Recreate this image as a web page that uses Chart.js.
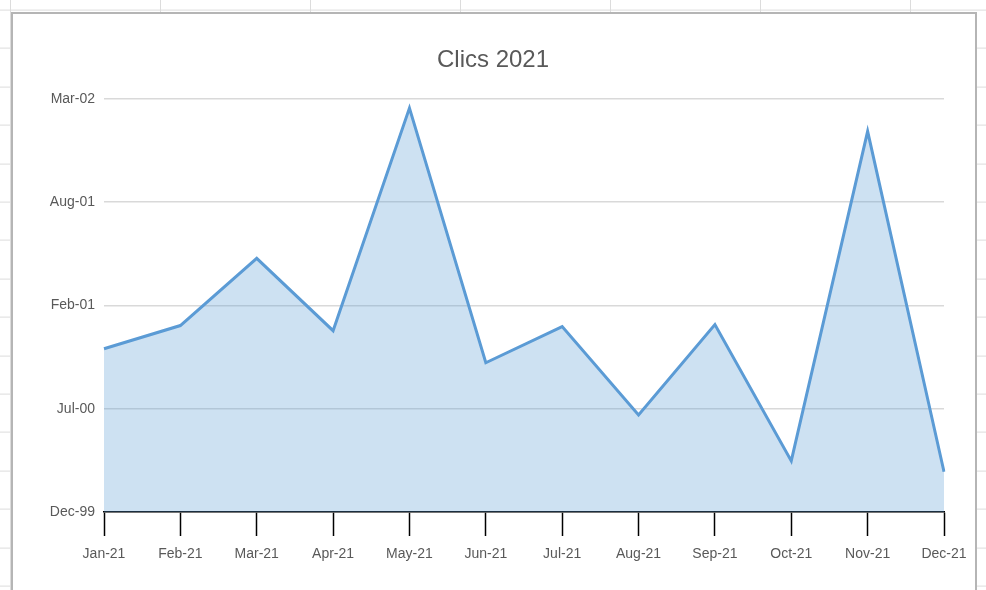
<!DOCTYPE html>
<html lang="fr">
<head>
    <meta charset="UTF-8">
    <title>Clics 2021</title>
    <script src="https://cdn.jsdelivr.net/npm/chart.js"></script>
    <style>
        html, body { margin: 0; padding: 0; }
        body {
            width: 986px;
            height: 590px;
            overflow: hidden;
            position: relative;
            background-color: #fff;
            /* spreadsheet cells behind the chart */
            background-image:
                repeating-linear-gradient(to right, #dcdcdc 0 1px, transparent 1px 150px),
                repeating-linear-gradient(to bottom, #dcdcdc 0 1px, transparent 1px 38.4px);
            background-position: 10px 0, 0 9.6px;
        }
        .chart-box {
            position: absolute;
            left: 11px;
            top: 12px;
            width: 962px;
            height: 620px;
            background: #fff;
            border: 2px solid #b5b5b5;
        }
        #clicsChart {
            position: absolute;
            left: 0;
            top: 0;
        }
    </style>
</head>
<body>
    <div class="chart-box"></div>
    <canvas id="clicsChart" width="986" height="590"></canvas>

    <script>
        // Data (values are Excel date serials, shown as mmm-yy on the y axis)
        const months = ['Jan-21', 'Feb-21', 'Mar-21', 'Apr-21', 'May-21', 'Jun-21',
                        'Jul-21', 'Aug-21', 'Sep-21', 'Oct-21', 'Nov-21', 'Dec-21'];
        const clics = [316, 361, 491, 351, 782, 289, 359, 188, 363, 99, 737, 78];
        const yTickLabels = ['Dec-99', 'Jul-00', 'Feb-01', 'Aug-01', 'Mar-02'];
        const yStep = 200;

        const textColor = '#595959';
        const fontFamily = "'Liberation Sans', Arial, sans-serif";

        const ctx = document.getElementById('clicsChart').getContext('2d');
        new Chart(ctx, {
            type: 'line',
            data: {
                labels: months,
                datasets: [{
                    label: 'Clics',
                    data: clics,
                    borderColor: '#5b9bd5',
                    backgroundColor: 'rgba(91, 155, 213, 0.3)',
                    borderWidth: 3,
                    fill: 'origin',
                    tension: 0,
                    pointRadius: 0
                }]
            },
            options: {
                responsive: false,
                animation: false,
                layout: {
                    // symmetric so the title sits in the middle of the box
                    padding: { left: 42, right: 42, top: 0, bottom: 0 }
                },
                plugins: {
                    legend: { display: false },
                    tooltip: { enabled: false },
                    title: {
                        display: true,
                        text: 'Clics 2021',
                        color: textColor,
                        font: { family: fontFamily, size: 24, weight: 'normal' },
                        padding: { top: 46, bottom: 24 }
                    }
                },
                scales: {
                    x: {
                        offset: false,
                        grid: {
                            drawOnChartArea: false,
                            drawTicks: true,
                            tickLength: 24,
                            tickWidth: 1.5,
                            tickColor: '#000'
                        },
                        border: { color: '#000', width: 1.5 },
                        ticks: {
                            color: textColor,
                            font: { family: fontFamily, size: 14 },
                            padding: 10,
                            maxRotation: 0,
                            autoSkip: false
                        },
                        afterFit: function(scale) { scale.height = 78; }
                    },
                    y: {
                        min: 0,
                        max: yStep * (yTickLabels.length - 1),
                        grid: {
                            color: '#d9d9d9',
                            lineWidth: 1.5,
                            drawTicks: false
                        },
                        border: { display: false },
                        ticks: {
                            stepSize: yStep,
                            color: textColor,
                            font: { family: fontFamily, size: 14 },
                            padding: 9,
                            callback: function(value) {
                                return yTickLabels[Math.round(value / yStep)];
                            }
                        },
                        afterFit: function(scale) { scale.width = 62; }
                    }
                }
            }
        });
    </script>
</body>
</html>
